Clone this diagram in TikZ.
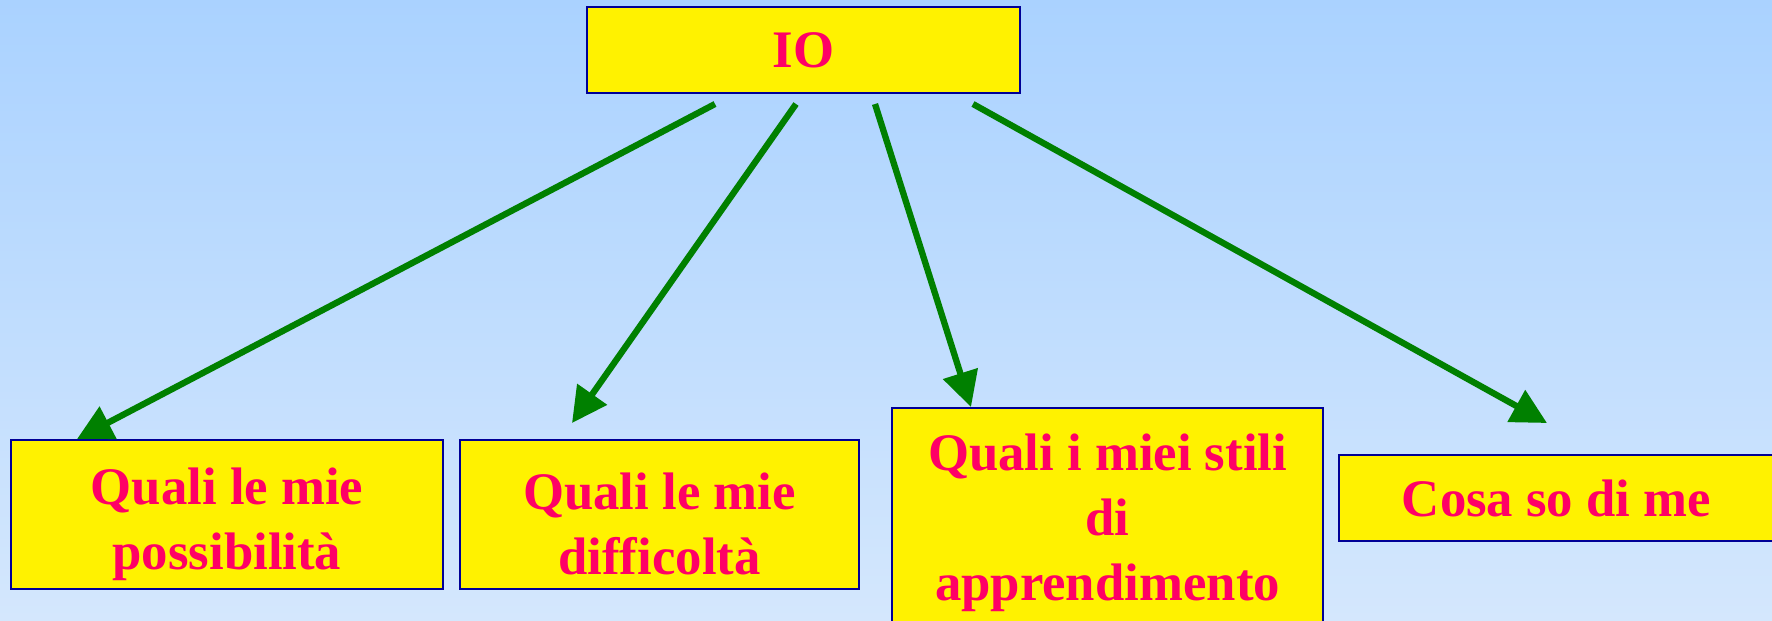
\documentclass[tikz,border=0pt]{standalone}
\usepackage{fontspec}
\setmainfont{Liberation Serif}
\usetikzlibrary{arrows.meta, positioning}
\definecolor{skytop}{RGB}{170,210,255}
\definecolor{skybottom}{RGB}{212,231,253}
\definecolor{boxline}{RGB}{0,0,150}
\definecolor{labelred}{RGB}{255,0,102}
\definecolor{linkgreen}{RGB}{0,128,0}
\newcommand{\topgap}{\rule{0pt}{16pt}}

\begin{document}
\begin{tikzpicture}[x=0.01cm, y=-0.01cm,
		box/.style={draw=boxline, line width=0.6pt, fill=yellow, text=labelred,
			font=\fontsize{15}{18.5}\selectfont\bfseries, align=center, inner sep=0pt},
		link/.style={draw=linkgreen, line width=1.8pt, -{Triangle[length=10pt,width=10pt]}}]
		% Background
		\useasboundingbox (0,0) rectangle (1772,620);
		\fill[top color=skytop, bottom color=skybottom] (0,0) rectangle (1772,620);

		% Boxes
		\node[box, minimum width=4.33cm, minimum height=0.86cm] (io) at (803.5,50) {IO};
		\node[box, minimum width=4.32cm, minimum height=1.49cm] (possibilita) at (227,514.5) {\topgap Quali le mie\\possibilità};
		\node[box, minimum width=3.99cm, minimum height=1.49cm] (difficolta) at (659.5,514.5) {\topgap Quali le mie\\difficoltà};
		\node[box, minimum width=4.31cm, minimum height=2.30cm, anchor=north] (stili) at (1107.5,407) {Quali i miei stili\\di\\apprendimento};
		\node[box, minimum width=4.35cm, minimum height=0.86cm] (sodime) at (1556.5,498) {Cosa so di me};

		% Arrow ends
		\coordinate (s1) at (715,104);
		\coordinate (s2) at (796,104);
		\coordinate (s3) at (875,104);
		\coordinate (s4) at (973,104);
		\coordinate (t1) at (77,439);
		\coordinate (t2) at (572,423);
		\coordinate (t3) at (971,407);
		\coordinate (t4) at (1547,423);

		\draw[link] (s1) -- (t1);
		\draw[link] (s2) -- (t2);
		\draw[link] (s3) -- (t3);
		\draw[link] (s4) -- (t4);
	\end{tikzpicture}
\end{document}
